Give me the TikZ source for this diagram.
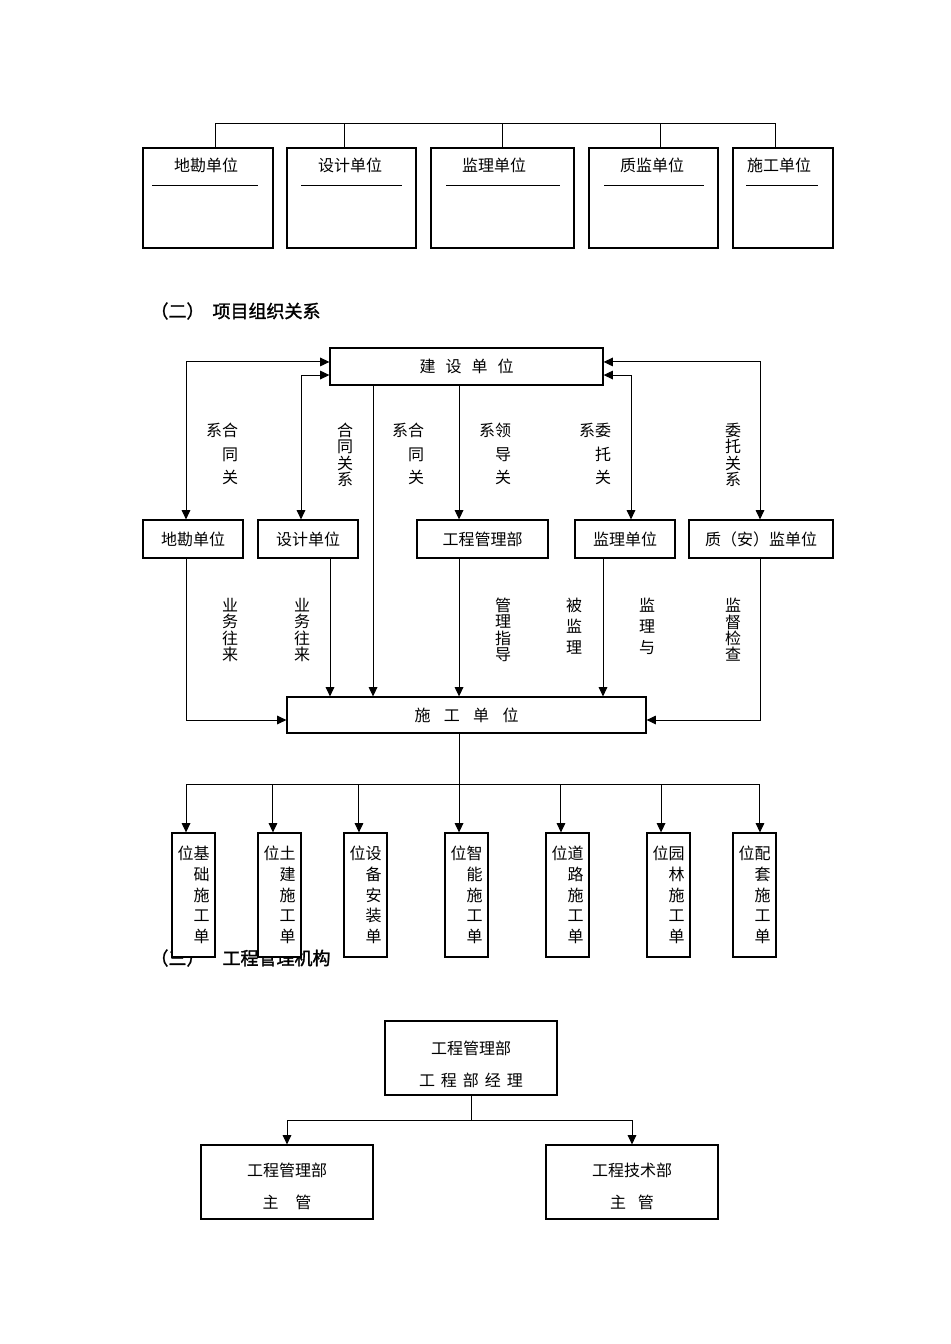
\documentclass[tikz,border=0pt]{standalone}
\usepackage{fontspec}
\setmainfont{Noto Sans CJK SC}[AutoFakeBold=1.5]
\usetikzlibrary{arrows.meta}

\begin{document}
\begin{tikzpicture}[x=0.75pt, y=-0.75pt, >={Triangle[length=7pt,width=6.5pt]}, line width=0.75pt, every node/.style={font=\fontsize{12}{14}\selectfont, inner sep=0pt}]
    \tikzstyle{topbox} = [rectangle, draw, line width=0.9pt, minimum height=75pt]
    \tikzstyle{unitbox} = [rectangle, draw, line width=0.9pt, fill=white, minimum height=28.5pt]
    \tikzstyle{tallbox} = [rectangle, draw, line width=0.9pt, fill=white, minimum width=32.25pt, minimum height=93pt, align=right, font=\fontsize{12}{15.6}\selectfont]
    \tikzstyle{mgrbox} = [rectangle, draw, line width=0.9pt, fill=white, minimum width=129pt, minimum height=55.5pt]
    \tikzstyle{mgrtext} = [align=center, font=\fontsize{12}{24}\selectfont]
    \tikzstyle{vlabel} = [align=center, font=\fontsize{12}{12.3}\selectfont]
    \tikzstyle{wraplabel} = [align=right, font=\fontsize{12}{17.6}\selectfont]
    \tikzstyle{heading} = [anchor=west, font=\fontsize{13.5}{16}\selectfont\bfseries]

    \fill[white] (0,0) rectangle (950,1344);
    \useasboundingbox (0,0) rectangle (950,1344);

    % top row of units
    \node (kcTop) [topbox, minimum width=97.5pt] at (208,198) {};
    \node (sjTop) [topbox, minimum width=96.75pt] at (351.5,198) {};
    \node (jlTop) [topbox, minimum width=107.25pt] at (502.5,198) {};
    \node (zjTop) [topbox, minimum width=96.75pt] at (653.5,198) {};
    \node (sgTop) [topbox, minimum width=75pt] at (783,198) {};
    \node (kcTopText) at (206,165) {地勘单位};
    \node (sjTopText) at (350,165) {设计单位};
    \node (jlTopText) at (494,165) {监理单位};
    \node (zjTopText) at (652,165) {质监单位};
    \node (sgTopText) at (779,165) {施工单位};
    \draw (152,186) -- (258,186);
    \draw (301,186) -- (402,186);
    \draw (446,186) -- (560,186);
    \draw (604,186) -- (704,186);
    \draw (746,186) -- (818,186);

    \coordinate (topBus) at (0,124);
    \draw ([xshift=5.25pt]kcTop.north) |- ([xshift=-6pt]sgTop.north |- topBus) -- ([xshift=-6pt]sgTop.north);
    \foreach \n/\s in {sjTop/-4.9pt, jlTop/0pt, zjTop/4.9pt}
        \draw ([xshift=\s]\n.north) -- ([xshift=\s]\n.north |- topBus);

    \node (hOrg) [heading] at (150,311) {（二）\hspace{6pt}项目组织关系};

    % organisation
    \node (jsdw) [unitbox, minimum width=204.75pt, minimum height=27.75pt] at (466.5,366.5) {建\hspace{7.5pt}设\hspace{7.5pt}单\hspace{7.5pt}位};
    \node (kc) [unitbox, minimum width=75pt] at (193,539) {地勘单位};
    \node (sj) [unitbox, minimum width=75pt] at (308,539) {设计单位};
    \node (gc) [unitbox, minimum width=98.25pt] at (482.5,539) {工程管理部};
    \node (jl) [unitbox, minimum width=75pt] at (625,539) {监理单位};
    \node (zj) [unitbox, minimum width=108pt] at (761,539) {质（安）监单位};
    \node (sg) [unitbox, minimum width=269.25pt, minimum height=27pt] at (466.5,715) {施\hspace{10pt}工\hspace{10pt}单\hspace{10pt}位};

    \draw [<->] ([xshift=-5.25pt]kc.north) |- ([yshift=3.4pt]jsdw.west);
    \draw [<->] ([xshift=-5.25pt]sj.north) |- ([yshift=-6.4pt]jsdw.west);
    \draw [<->] ([xshift=-0.75pt]zj.north) |- ([yshift=3.4pt]jsdw.east);
    \draw [<->] ([xshift=4.5pt]jl.north) |- ([yshift=-6.4pt]jsdw.east);
    \draw [->] ([xshift=-70.1pt]jsdw.south) -- ([xshift=-70.1pt]sg.north);
    \draw [->] ([xshift=-5.6pt]jsdw.south) -- ([xshift=-5.6pt]jsdw.south |- gc.north);

    \draw [->] ([xshift=-5.25pt]kc.south) |- ([yshift=-3.75pt]sg.west);
    \draw [->] ([xshift=16.5pt]sj.south) -- ([xshift=16.5pt]sj.south |- sg.north);
    \draw [->] ([xshift=-17.6pt]gc.south) -- ([xshift=-17.6pt]gc.south |- sg.north);
    \draw [->] ([xshift=-16.5pt]jl.south) -- ([xshift=-16.5pt]jl.south |- sg.north);
    \draw [->] ([xshift=-0.75pt]zj.south) |- ([yshift=-3.75pt]sg.east);

    \node (relKc) [wraplabel] at (222,454) {系合\\同\\关};
    \node (relSj) [vlabel] at (345,455) {合\\同\\关\\系};
    \node (relSg) [wraplabel] at (408,454) {系合\\同\\关};
    \node (relGc) [wraplabel] at (495,454) {系领\\导\\关};
    \node (relJl) [wraplabel] at (595,454) {系委\\托\\关};
    \node (relZj) [vlabel] at (733,455) {委\\托\\关\\系};

    \node (busKc) [vlabel] at (230,630) {业\\务\\往\\来};
    \node (busSj) [vlabel] at (302,630) {业\\务\\往\\来};
    \node (busGc) [vlabel] at (503,630) {管\\理\\指\\导};
    \node (busSup) [align=center, font=\fontsize{12}{15.75}\selectfont] at (574,626) {被\\监\\理};
    \node (busJl) [align=center, font=\fontsize{12}{15.75}\selectfont] at (647,626) {监\\理\\与};
    \node (busZj) [vlabel] at (733,630) {监\\督\\检\\查};

    % heading is partly hidden by the work units
    \node (hMgmt) [heading] at (150,958) {（三）\hspace{13.5pt}工程管理机构};

    \node (jc) [tallbox] at (193.5,895) {位基\\础\\施\\工\\单};
    \node (tj) [tallbox] at (279.5,895) {位土\\建\\施\\工\\单};
    \node (sb) [tallbox] at (365.5,895) {位设\\备\\安\\装\\单};
    \node (zn) [tallbox] at (466.5,895) {位智\\能\\施\\工\\单};
    \node (dl) [tallbox] at (567.5,895) {位道\\路\\施\\工\\单};
    \node (yl) [tallbox] at (668.5,895) {位园\\林\\施\\工\\单};
    \node (ptao) [tallbox] at (754.5,895) {位配\\套\\施\\工\\单};

    \draw ([xshift=-5.6pt]sg.south) -- ++(0,51) coordinate (fork);
    \foreach \n/\s in {jc/-5.6pt, tj/-4.9pt, sb/-4.9pt, zn/-5.6pt, dl/-4.9pt, yl/-5.6pt, ptao/4.1pt}
        \draw [->] (fork) -| ([xshift=\s]\n.north);

    % management
    \node (mgr) [mgrbox] at (471,1058) {};
    \node (mgrEng) [mgrbox] at (287,1182) {};
    \node (mgrTech) [mgrbox] at (632,1182) {};
    \node (mgrText) [mgrtext] at ([yshift=-4.5pt]mgr.center) {工程管理部\\工\hspace{4.5pt}程\hspace{4.5pt}部\hspace{4.5pt}经\hspace{4.5pt}理};
    \node (mgrEngText) [mgrtext] at ([yshift=-3pt]mgrEng.center) {工程管理部\\主\hspace{12.75pt}管};
    \node (mgrTechText) [mgrtext] at ([yshift=-3pt]mgrTech.center) {工程技术部\\主\hspace{9pt}管};

    \draw (mgr.south) -- ++(0,25) coordinate (split);
    \draw [->] (split) -| (mgrEng.north);
    \draw [->] (split) -| (mgrTech.north);

\end{tikzpicture}
\end{document}
